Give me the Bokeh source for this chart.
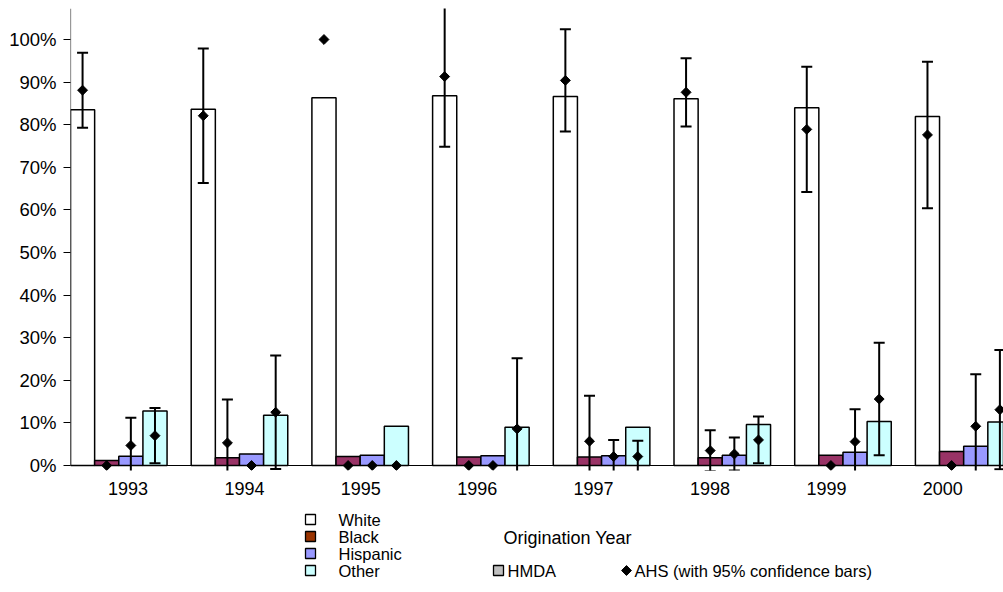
import math
from bokeh.plotting import figure
from bokeh.models import Range1d, FixedTicker, NumeralTickFormatter, Span
from bokeh.layouts import column
from bokeh.embed import file_html
from bokeh.resources import INLINE
from bokeh.core.properties import value

# ---------------- data ----------------
years = ["1993", "1994", "1995", "1996", "1997", "1998", "1999", "2000"]
groups = ["White", "Black", "Hispanic", "Other"]

# HMDA shares (bars)
hmda_white = [0.835, 0.836, 0.863, 0.868, 0.866, 0.861, 0.840, 0.819]
hmda_black = [0.012, 0.018, 0.021, 0.020, 0.020, 0.018, 0.024, 0.033]
hmda_hispanic = [0.022, 0.027, 0.024, 0.023, 0.023, 0.024, 0.031, 0.045]
hmda_other = [0.128, 0.118, 0.092, 0.090, 0.090, 0.096, 0.103, 0.102]

# AHS shares (diamonds) and 95% confidence half-widths
ahs_white = [0.881, 0.821, 1.000, 0.913, 0.904, 0.876, 0.789, 0.776]
ahs_white_err = [0.088, 0.158, 0.0, 0.165, 0.120, 0.080, 0.147, 0.172]
ahs_black = [0.0, 0.053, 0.0, 0.0, 0.057, 0.035, 0.0, 0.0]
ahs_black_err = [0.0, 0.102, 0.0, 0.0, 0.107, 0.048, 0.0, 0.0]
ahs_hispanic = [0.047, 0.0, 0.0, 0.0, 0.021, 0.027, 0.056, 0.092]
ahs_hispanic_err = [0.065, 0.0, 0.0, 0.0, 0.039, 0.039, 0.076, 0.122]
ahs_other = [0.070, 0.125, 0.0, 0.086, 0.021, 0.060, 0.156, 0.131]
ahs_other_err = [0.065, 0.133, 0.0, 0.166, 0.037, 0.055, 0.132, 0.140]

y_ticks = [0.0, 0.1, 0.2, 0.3, 0.4, 0.5, 0.6, 0.7, 0.8, 0.9, 1.0]

# ---------------- styles ----------------
bar_colors = {"White": "#FFFFFF", "Black": "#993366", "Hispanic": "#9999FF", "Other": "#CCFFFF"}
legend_colors = {"White": "#FFFFFF", "Black": "#993300", "Hispanic": "#9999FF", "Other": "#CCFFFF"}
FONT = "Liberation Sans"

hmda = {"White": hmda_white, "Black": hmda_black, "Hispanic": hmda_hispanic, "Other": hmda_other}
ahs = {"White": ahs_white, "Black": ahs_black, "Hispanic": ahs_hispanic, "Other": ahs_other}
ahs_err = {"White": ahs_white_err, "Black": ahs_black_err, "Hispanic": ahs_hispanic_err, "Other": ahs_other_err}

# layout constants
W = 1003
UNIT = 24.14          # px per bar slot
FRAME_LEFT = 70
FRAME_TOP = 8
FRAME_H = 462
FRAME_BOTTOM_PAD = 8
PX_PER_Y = 426.0
Y_BOT = -5 / PX_PER_Y
Y_TOP = Y_BOT + FRAME_H / PX_PER_Y
X_END = (W - FRAME_LEFT) / UNIT
H1 = FRAME_TOP + FRAME_H + FRAME_BOTTOM_PAD
H2 = 592 - H1

p = figure(width=W, height=H1, x_range=Range1d(0, X_END), y_range=Range1d(Y_BOT, Y_TOP),
           output_backend="svg", toolbar_location=None, x_axis_location=None,
           min_border_left=FRAME_LEFT, min_border_right=0, min_border_top=FRAME_TOP,
           min_border_bottom=FRAME_BOTTOM_PAD)
p.outline_line_color = None
p.xgrid.visible = False
p.ygrid.visible = False
p.background_fill_color = "white"
p.border_fill_color = "white"

n = len(years)
for j, g in enumerate(groups):
    xs = [5 * i + j + 0.5 for i in range(n)]
    p.vbar(x=xs, top=hmda[g], bottom=0, width=1.0, fill_color=bar_colors[g],
           line_color="black", line_width=1.5)

# baseline
p.add_layout(Span(location=0, dimension="width", line_color="black", line_width=1.2))
# y axis line (from 0 up)
p.segment(x0=[0], y0=[0], x1=[0], y1=[Y_TOP], line_color="#333333", line_width=1.2)

# AHS error bars and diamonds
for j, g in enumerate(groups):
    xs = [5 * i + j + 0.5 for i in range(n)]
    ex = [x for x, e in zip(xs, ahs_err[g]) if e > 0]
    lo = [v - e for v, e in zip(ahs[g], ahs_err[g]) if e > 0]
    hi = [v + e for v, e in zip(ahs[g], ahs_err[g]) if e > 0]
    p.segment(x0=ex, y0=lo, x1=ex, y1=hi, line_color="black", line_width=2)
    p.scatter(x=ex + ex, y=lo + hi, marker="dash", size=11, line_color="black", line_width=2)
    p.scatter(x=xs, y=ahs[g], marker="square", angle=math.pi / 4, size=7,
              fill_color="black", line_color="black")

# y axis
p.yaxis.ticker = FixedTicker(ticks=y_ticks)
p.yaxis.formatter = NumeralTickFormatter(format="0%")
p.yaxis.axis_line_color = None
p.yaxis.major_tick_line_color = "black"
p.yaxis.major_tick_out = 7
p.yaxis.major_tick_in = 0
p.yaxis.minor_tick_line_color = None
p.yaxis.major_label_text_font = FONT
p.yaxis.major_label_text_font_size = "18.5px"
p.yaxis.major_label_text_color = "black"
p.yaxis.major_label_standoff = 7

# ---------------- lower panel: category labels + legend (coords = page pixels) ----------------
q = figure(width=W, height=H2, x_range=Range1d(FRAME_LEFT, W), y_range=Range1d(592, H1),
           output_backend="svg", toolbar_location=None,
           x_axis_location=None, y_axis_location=None,
           min_border_left=FRAME_LEFT, min_border_right=0, min_border_top=0, min_border_bottom=0)
q.grid.visible = False
q.outline_line_color = None
q.background_fill_color = "white"
q.border_fill_color = "white"

# category labels along the x axis
label_x = [127.5 + 116.4 * i for i in range(n)]
q.text(x=label_x, y=[488] * n, text=years, text_font=value(FONT), text_font_size="18px",
       text_baseline="middle", text_align="center", text_color="black")

rows_y = [519, 536, 553, 570]
q.scatter(x=[310] * 4, y=rows_y, marker="square", size=10,
          fill_color=[legend_colors[g] for g in groups], line_color="black", line_width=1.3)
q.text(x=[338] * 4, y=rows_y, text=groups, text_font=value(FONT), text_font_size="16.5px",
       text_baseline="middle", text_align="left", text_color="black")
q.text(x=[503], y=[537], text=["Origination Year"], text_font=value(FONT), text_font_size="18px",
       text_baseline="middle", text_align="left", text_color="black")
q.scatter(x=[498], y=[570], marker="square", size=10, fill_color="#C0C0C0",
          line_color="black", line_width=1.3)
q.text(x=[507], y=[570], text=["HMDA"], text_font=value(FONT), text_font_size="16.5px",
       text_baseline="middle", text_align="left", text_color="black")
q.scatter(x=[626], y=[570], marker="square", angle=math.pi / 4, size=7,
          fill_color="black", line_color="black")
q.text(x=[634], y=[570], text=["AHS (with 95% confidence bars)"], text_font=value(FONT),
       text_font_size="16.5px", text_baseline="middle", text_align="left", text_color="black")

layout = column(p, q, spacing=0)
open("out.html", "w").write(file_html(layout, INLINE))
